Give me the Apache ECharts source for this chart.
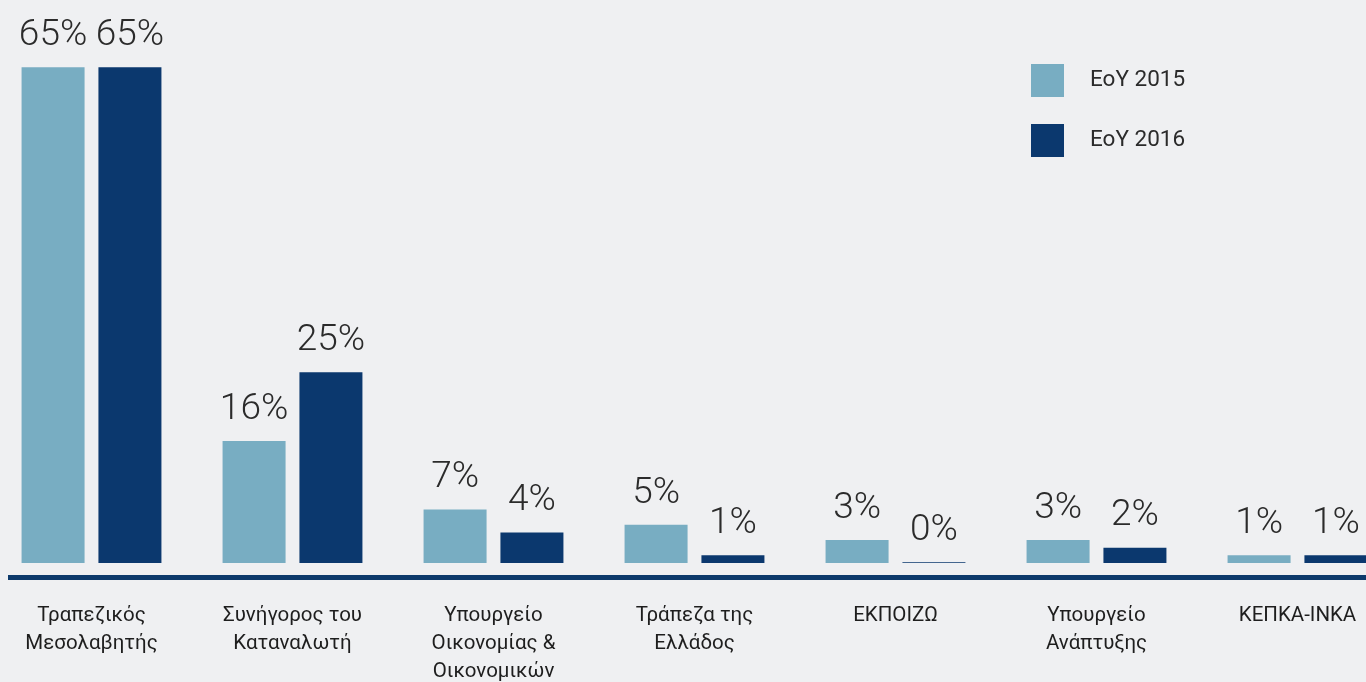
<!DOCTYPE html>
<html><head><meta charset="utf-8">
<script src="https://cdn.jsdelivr.net/npm/echarts@6/dist/echarts.min.js"></script>
<style>html,body{margin:0;padding:0;background:#eff0f2;overflow:hidden;}#c{width:1407px;height:682px;margin-left:-9px;}</style>
</head><body><div id="c"></div>
<script>
const categories = ['Τραπεζικός\nΜεσολαβητής','Συνήγορος του\nΚαταναλωτή','Υπουργείο\nΟικονομίας &\nΟικονομικών','Τράπεζα της\nΕλλάδος','ΕΚΠΟΙΖΩ','Υπουργείο\nΑνάπτυξης','ΚΕΠΚΑ-ΙΝΚΑ'];
const seriesNames = ['EoY 2015','EoY 2016'];
const eoy2015 = [65, 16, 7, 5, 3, 3, 1];
const eoy2016 = [65, 25, 4, 1, 0.1, 2, 1];

const chart = echarts.init(document.getElementById('c'));
const lbl = {
  show: true, position: 'top', distance: 13,
  fontFamily: 'Roboto', fontWeight: 300, fontSize: 37, color: '#2b2b2b',
  formatter: p => Math.round(p.value) + '%'
};
chart.setOption({
  backgroundColor: '#eff0f2',
  animation: false,
  legend: {
    orient: 'vertical', left: 1035, top: 59, itemWidth: 33, itemHeight: 33, itemGap: 27,
    icon: 'rect',
    textStyle: {fontFamily: 'Roboto', fontSize: 22.5, color: '#2b2b2b', padding: [0,0,0,21]},
    data: seriesNames
  },
  grid: {left: 0, right: 0, top: 29, bottom: 119, containLabel: false, outerBoundsMode: 'none'},
  xAxis: {
    type: 'category', data: categories,
    axisLine: {show: false}, axisTick: {show: false},
    axisLabel: {interval: 0, margin: 39, fontFamily: 'Roboto', fontSize: 20.5, lineHeight: 28, color: '#1e1e1e', verticalAlign: 'top'}
  },
  yAxis: {type: 'value', min: 0, max: 70, show: false, splitLine: {show: false}},
  graphic: [{type: 'rect', shape: {x: 17, y: 575, width: 1400, height: 5}, style: {fill: '#0d3a6b'}}],
  series: [
    {name: seriesNames[0], type: 'bar', data: eoy2015, barWidth: 63, barGap: '22%', itemStyle: {color: '#78adc2'}, label: lbl},
    {name: seriesNames[1], type: 'bar', data: eoy2016, barWidth: 63, itemStyle: {color: '#0b386e'}, label: lbl}
  ]
});
</script></body></html>
